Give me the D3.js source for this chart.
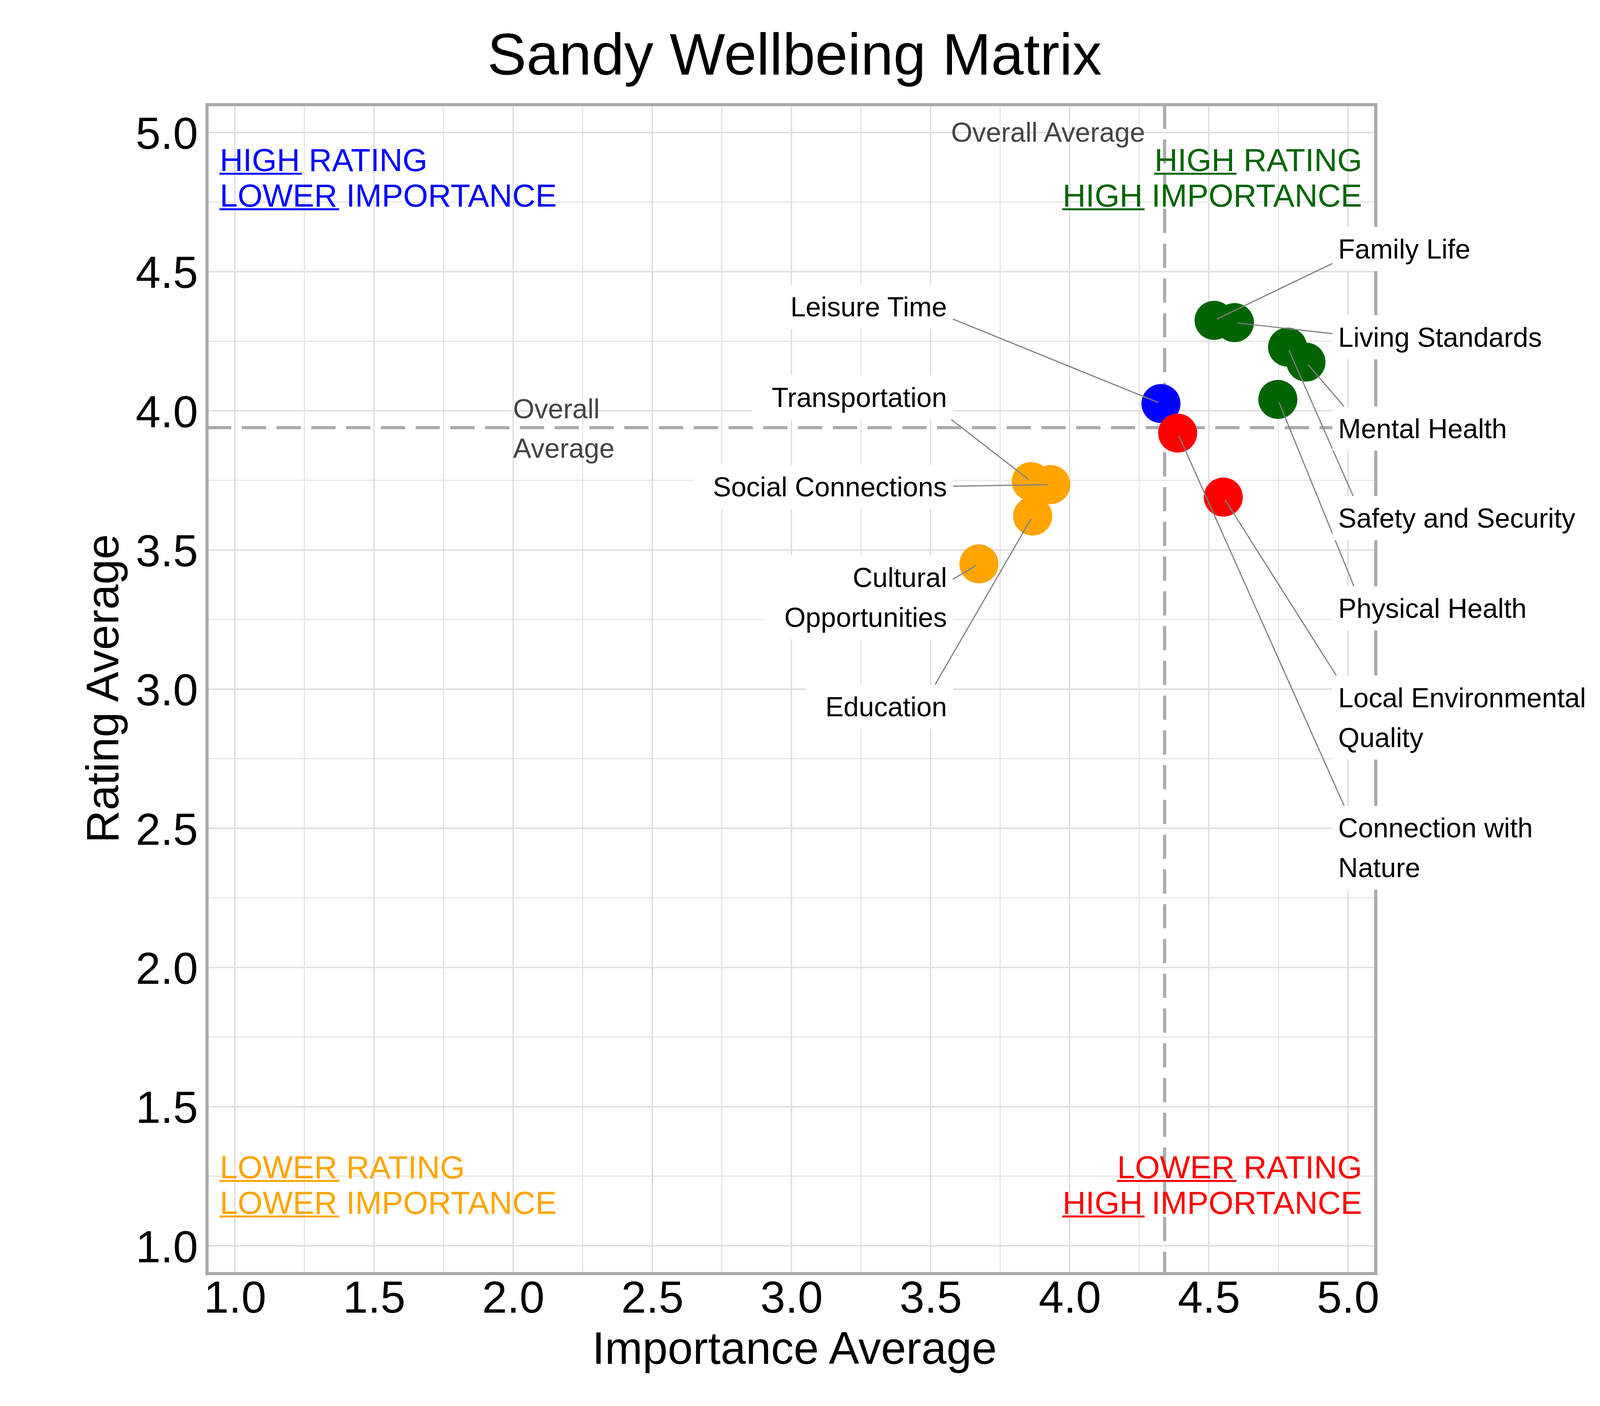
<!DOCTYPE html>
<html>
<head>
<meta charset="utf-8">
<script src="https://cdn.jsdelivr.net/npm/d3@7"></script>
<style>
  body { margin: 0; background: #fff; }
  text { font-family: "Liberation Sans", Arial, Helvetica, sans-serif; }
</style>
</head>
<body>
<svg id="chart" width="4200" height="3600"></svg>
<script>
// wellbeing areas
var names = ["Family Life", "Living Standards", "Mental Health", "Safety and Security",
    "Physical Health", "Leisure Time", "Connection with\nNature", "Local Environmental\nQuality",
    "Transportation", "Social Connections", "Education", "Cultural\nOpportunities"];
var importance = [4.519, 4.592, 4.849, 4.783, 4.748, 4.328, 4.388, 4.552, 3.862, 3.932, 3.867, 3.674];
var rating = [4.325, 4.317, 4.175, 4.229, 4.041, 4.026, 3.920, 3.690, 3.746, 3.735, 3.622, 3.450];

// where the repelled labels ended up (data units: text edge, first baseline)
var labelX = [4.965, 4.965, 4.965, 4.965, 4.965, 3.559, 4.965, 4.965, 3.559, 3.559, 3.559, 3.559];
var labelY = [4.547, 4.230, 3.902, 3.580, 3.256, 4.339, 2.467, 2.935, 4.014, 3.692, 2.902, 3.367];

var majorTicks = [1.0, 1.5, 2.0, 2.5, 3.0, 3.5, 4.0, 4.5, 5.0];
var minorTicks = [1.25, 1.75, 2.25, 2.75, 3.25, 3.75, 4.25, 4.75];

var quadrantText = {
    blue:   [["HIGH", " RATING"], ["LOWER", " IMPORTANCE"]],
    green:  [["HIGH", " RATING"], ["HIGH", " IMPORTANCE"]],
    orange: [["LOWER", " RATING"], ["LOWER", " IMPORTANCE"]],
    red:    [["LOWER", " RATING"], ["HIGH", " IMPORTANCE"]]
};
var colors = {blue: "#0000ff", green: "#006400", orange: "#ffa500", red: "#ff0000"};

var svg = d3.select("#chart");
var x = d3.scaleLinear().domain([0.9, 5.1]).range([530, 3522]);
var y = d3.scaleLinear().domain([0.9, 5.1]).range([3261, 268]);
var meanX = d3.mean(importance);
var meanY = d3.mean(rating);

svg.append("rect").attr("width", 4200).attr("height", 3600).attr("fill", "#fff");

// grid
var grid = svg.append("g");
function gridLines(ticks, color, w) {
    grid.selectAll(null).data(ticks).enter().append("line")
        .attr("x1", function(d) { return x(d); }).attr("x2", function(d) { return x(d); })
        .attr("y1", y.range()[0]).attr("y2", y.range()[1])
        .attr("stroke", color).attr("stroke-width", w);
    grid.selectAll(null).data(ticks).enter().append("line")
        .attr("y1", function(d) { return y(d); }).attr("y2", function(d) { return y(d); })
        .attr("x1", x.range()[0]).attr("x2", x.range()[1])
        .attr("stroke", color).attr("stroke-width", w);
}
gridLines(minorTicks, "#e6e6e6", 3);
gridLines(majorTicks, "#dcdcdc", 3.4);

// overall average lines
svg.append("line")
    .attr("x1", x.range()[0]).attr("x2", x.range()[1])
    .attr("y1", y(meanY)).attr("y2", y(meanY))
    .attr("stroke", "#aaaaaa").attr("stroke-width", 8).attr("stroke-dasharray", "62,27");
svg.append("line")
    .attr("x1", x(meanX)).attr("x2", x(meanX))
    .attr("y1", y.range()[1]).attr("y2", y.range()[0])
    .attr("stroke", "#aaaaaa").attr("stroke-width", 8).attr("stroke-dasharray", "62,27");

// panel border
svg.append("rect")
    .attr("x", x.range()[0]).attr("y", y.range()[1])
    .attr("width", x.range()[1] - x.range()[0]).attr("height", y.range()[0] - y.range()[1])
    .attr("fill", "none").attr("stroke", "#aaaaaa").attr("stroke-width", 8);

function quadrant(i) {
    if (rating[i] >= meanY) return importance[i] >= meanX ? "green" : "blue";
    return importance[i] >= meanX ? "red" : "orange";
}

var idx = d3.range(names.length);

svg.append("g").selectAll("circle").data(idx).enter().append("circle")
    .attr("cx", function(i) { return x(importance[i]); })
    .attr("cy", function(i) { return y(rating[i]); })
    .attr("r", 50)
    .attr("fill", function(i) { return colors[quadrant(i)]; });

// labels with white boxes and leader segments
var segG = svg.append("g");
var labG = svg.append("g");
idx.forEach(function(i) {
    var lines = names[i].split("\n");
    var right = labelX[i] > meanX;
    var tx = x(labelX[i]);
    var base = y(labelY[i]);
    var lh = 102;
    var g = labG.append("g");
    var box = g.append("rect").attr("fill", "#fff");
    var t = g.append("text")
        .attr("font-size", 70)
        .attr("fill", "#000")
        .attr("text-anchor", right ? "start" : "end");
    var w = 0;
    lines.forEach(function(s, k) {
        var ts = t.append("tspan").attr("x", tx).attr("y", base + k * lh).text(s);
        w = Math.max(w, ts.node().getComputedTextLength());
    });
    var lastBase = base + (lines.length - 1) * lh;
    var x0 = right ? tx - 15 : tx - w - 50;
    var x1 = right ? tx + w + 50 : tx + 15;
    var y0 = base - 81, y1 = lastBase + 32;
    box.attr("x", x0).attr("y", y0).attr("width", x1 - x0).attr("height", y1 - y0);

    var px = x(importance[i]), py = y(rating[i]);
    var tX = right ? tx + 63 : tx - 63;
    var tY = (base - 50 + lastBase) / 2;
    var dx = tX - px, dy = tY - py;
    var tx0 = dx !== 0 ? Math.min((x0 - px) / dx, (x1 - px) / dx) : -Infinity;
    var ty0 = dy !== 0 ? Math.min((y0 - py) / dy, (y1 - py) / dy) : -Infinity;
    var tin = Math.max(tx0, ty0, 0);
    var len = Math.sqrt(dx * dx + dy * dy);
    var tEnd = 8 / len;
    segG.append("line")
        .attr("x1", px + tin * dx).attr("y1", py + tin * dy)
        .attr("x2", px + tEnd * dx).attr("y2", py + tEnd * dy)
        .attr("stroke", "#808080").attr("stroke-width", 3);
});

// quadrant captions
function quadLabel(key, qx, qy, anchor) {
    var g = svg.append("g").attr("fill", colors[key]);
    quadrantText[key].forEach(function(parts, k) {
        var t = g.append("text")
            .attr("x", x(qx)).attr("y", y(qy) + k * 91)
            .attr("font-size", 82)
            .attr("text-anchor", anchor);
        var first = t.append("tspan").text(parts[0]);
        t.append("tspan").text(parts[1]);
        var bb = t.node().getBBox();
        var fl = first.node().getComputedTextLength();
        var sx = anchor === "end" ? x(qx) - t.node().getComputedTextLength() : x(qx);
        g.append("rect")
            .attr("x", sx - 1).attr("y", y(qy) + k * 91 + 4)
            .attr("width", fl + 6).attr("height", 5);
    });
}
quadLabel("blue", 0.946, 4.861, "start");
quadLabel("green", 5.051, 4.861, "end");
quadLabel("orange", 0.946, 1.242, "start");
quadLabel("red", 5.051, 1.242, "end");

// overall average captions
svg.append("text")
    .attr("x", x(meanX) - 50).attr("y", y(5.0) + 24)
    .attr("font-size", 70).attr("fill", "#444444").attr("text-anchor", "end")
    .text("Overall Average");
var oa = svg.append("text").attr("font-size", 70).attr("fill", "#444444");
oa.append("tspan").attr("x", x(2.0)).attr("y", y(meanY) - 24).text("Overall");
oa.append("tspan").attr("x", x(2.0)).attr("y", y(meanY) + 77).text("Average");

// axes
var fmt = d3.format(".1f");
var xAxis = svg.append("g")
    .attr("transform", "translate(0," + y.range()[0] + ")")
    .call(d3.axisBottom(x).tickValues(majorTicks).tickFormat(fmt).tickSize(0).tickPadding(18));
var yAxis = svg.append("g")
    .attr("transform", "translate(" + x.range()[0] + ",0)")
    .call(d3.axisLeft(y).tickValues(majorTicks).tickFormat(fmt).tickSize(0).tickPadding(23));
[xAxis, yAxis].forEach(function(a) {
    a.select(".domain").remove();
    a.selectAll("text")
        .attr("font-size", 115)
        .attr("fill", "#000")
        .style("font-family", '"Liberation Sans", Arial, sans-serif');
});
yAxis.selectAll("text").attr("dy", "0.36em");

svg.append("text")
    .attr("x", 2034).attr("y", 3492)
    .attr("text-anchor", "middle").attr("font-size", 116)
    .text("Importance Average");
svg.append("text")
    .attr("transform", "translate(303,1763) rotate(-90)")
    .attr("text-anchor", "middle").attr("font-size", 116)
    .text("Rating Average");

svg.append("text")
    .attr("x", 2034).attr("y", 191)
    .attr("text-anchor", "middle").attr("font-size", 150)
    .text("Sandy Wellbeing Matrix");
</script>
</body>
</html>
